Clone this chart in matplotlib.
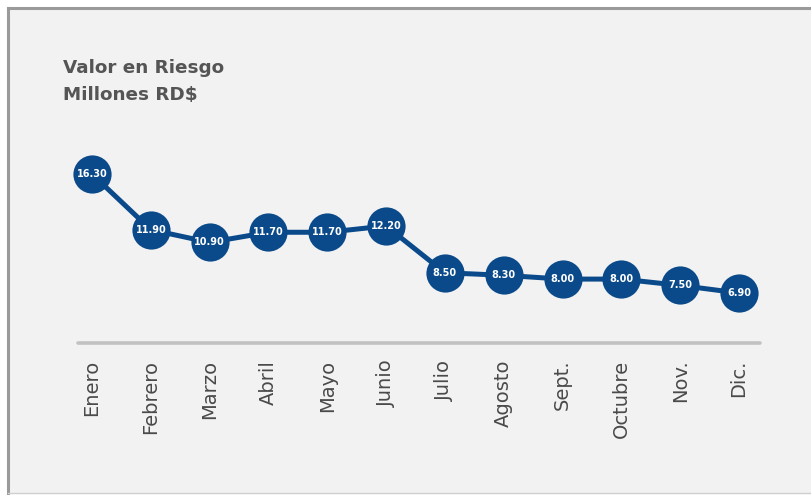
import matplotlib
matplotlib.use("Agg")
import matplotlib.pyplot as plt
from matplotlib.lines import Line2D

months = ["Enero", "Febrero", "Marzo", "Abril", "Mayo", "Junio", "Julio",
          "Agosto", "Sept.", "Octubre", "Nov.", "Dic."]
values = [16.30, 11.90, 10.90, 11.70, 11.70, 12.20, 8.50, 8.30, 8.00, 8.00, 7.50, 6.90]
title_lines = ["Valor en Riesgo", "Millones RD$"]

FONT = ["DejaVu Sans"]
BLUE = "#0b4a8a"
GRAY_TXT = "#4a4a4a"

W, H = 811, 495
fig = plt.figure(figsize=(W / 100, H / 100), dpi=100, facecolor="white")

# panel background and border
bg = fig.add_axes([0, 0, 1, 1])
bg.set_xlim(0, W)
bg.set_ylim(H, 0)
bg.axis("off")
bg.add_patch(plt.Rectangle((8, 8), W, 485, facecolor="#f2f2f2", edgecolor="none"))
bg.add_line(Line2D([8, 8], [8, 493], color="#9a9a9a", lw=2.2))
bg.add_line(Line2D([8, W], [8, 8], color="#9a9a9a", lw=2.2))
bg.add_line(Line2D([8, W], [493, 493], color="#cfcfcf", lw=1.0))

bg.text(63, 68, title_lines[0], fontsize=13.2, fontweight="bold", color="#555555",
        family=FONT, va="center", ha="left")
bg.text(63, 95, title_lines[1], fontsize=13.2, fontweight="bold", color="#555555",
        family=FONT, va="center", ha="left")

ax = fig.add_axes([62.6 / W, 1 - 343 / H, 705.8 / W, 193 / H])
ax.set_facecolor("none")
ax.set_xlim(-0.5, 11.5)
ax.set_ylim(2.95, 18.2)
for s in ax.spines.values():
    s.set_visible(False)
ax.set_yticks([])

x = list(range(len(months)))
ax.plot([-0.24, 11.36], [2.95, 2.95], color="#c2c2c2", lw=2.6,
        solid_capstyle="round", clip_on=False, zorder=1)
ax.plot(x, values, color=BLUE, lw=3.6, zorder=2, clip_on=False)
ax.plot(x, values, "o", ms=27.5, color=BLUE, mec=BLUE, mew=0, zorder=3, clip_on=False)
for xi, v in zip(x, values):
    ax.text(xi, v, f"{v:.2f}", color="white", fontsize=7, fontweight="bold",
            family=FONT, ha="center", va="center", zorder=4)

ax.set_xticks(x)
ax.set_xticklabels(months, rotation=90, fontsize=14, color=GRAY_TXT, family=FONT,
                   va="top", ha="center")
ax.tick_params(axis="x", length=0, pad=12)

fig.savefig("out.png", dpi=100, facecolor="white")
